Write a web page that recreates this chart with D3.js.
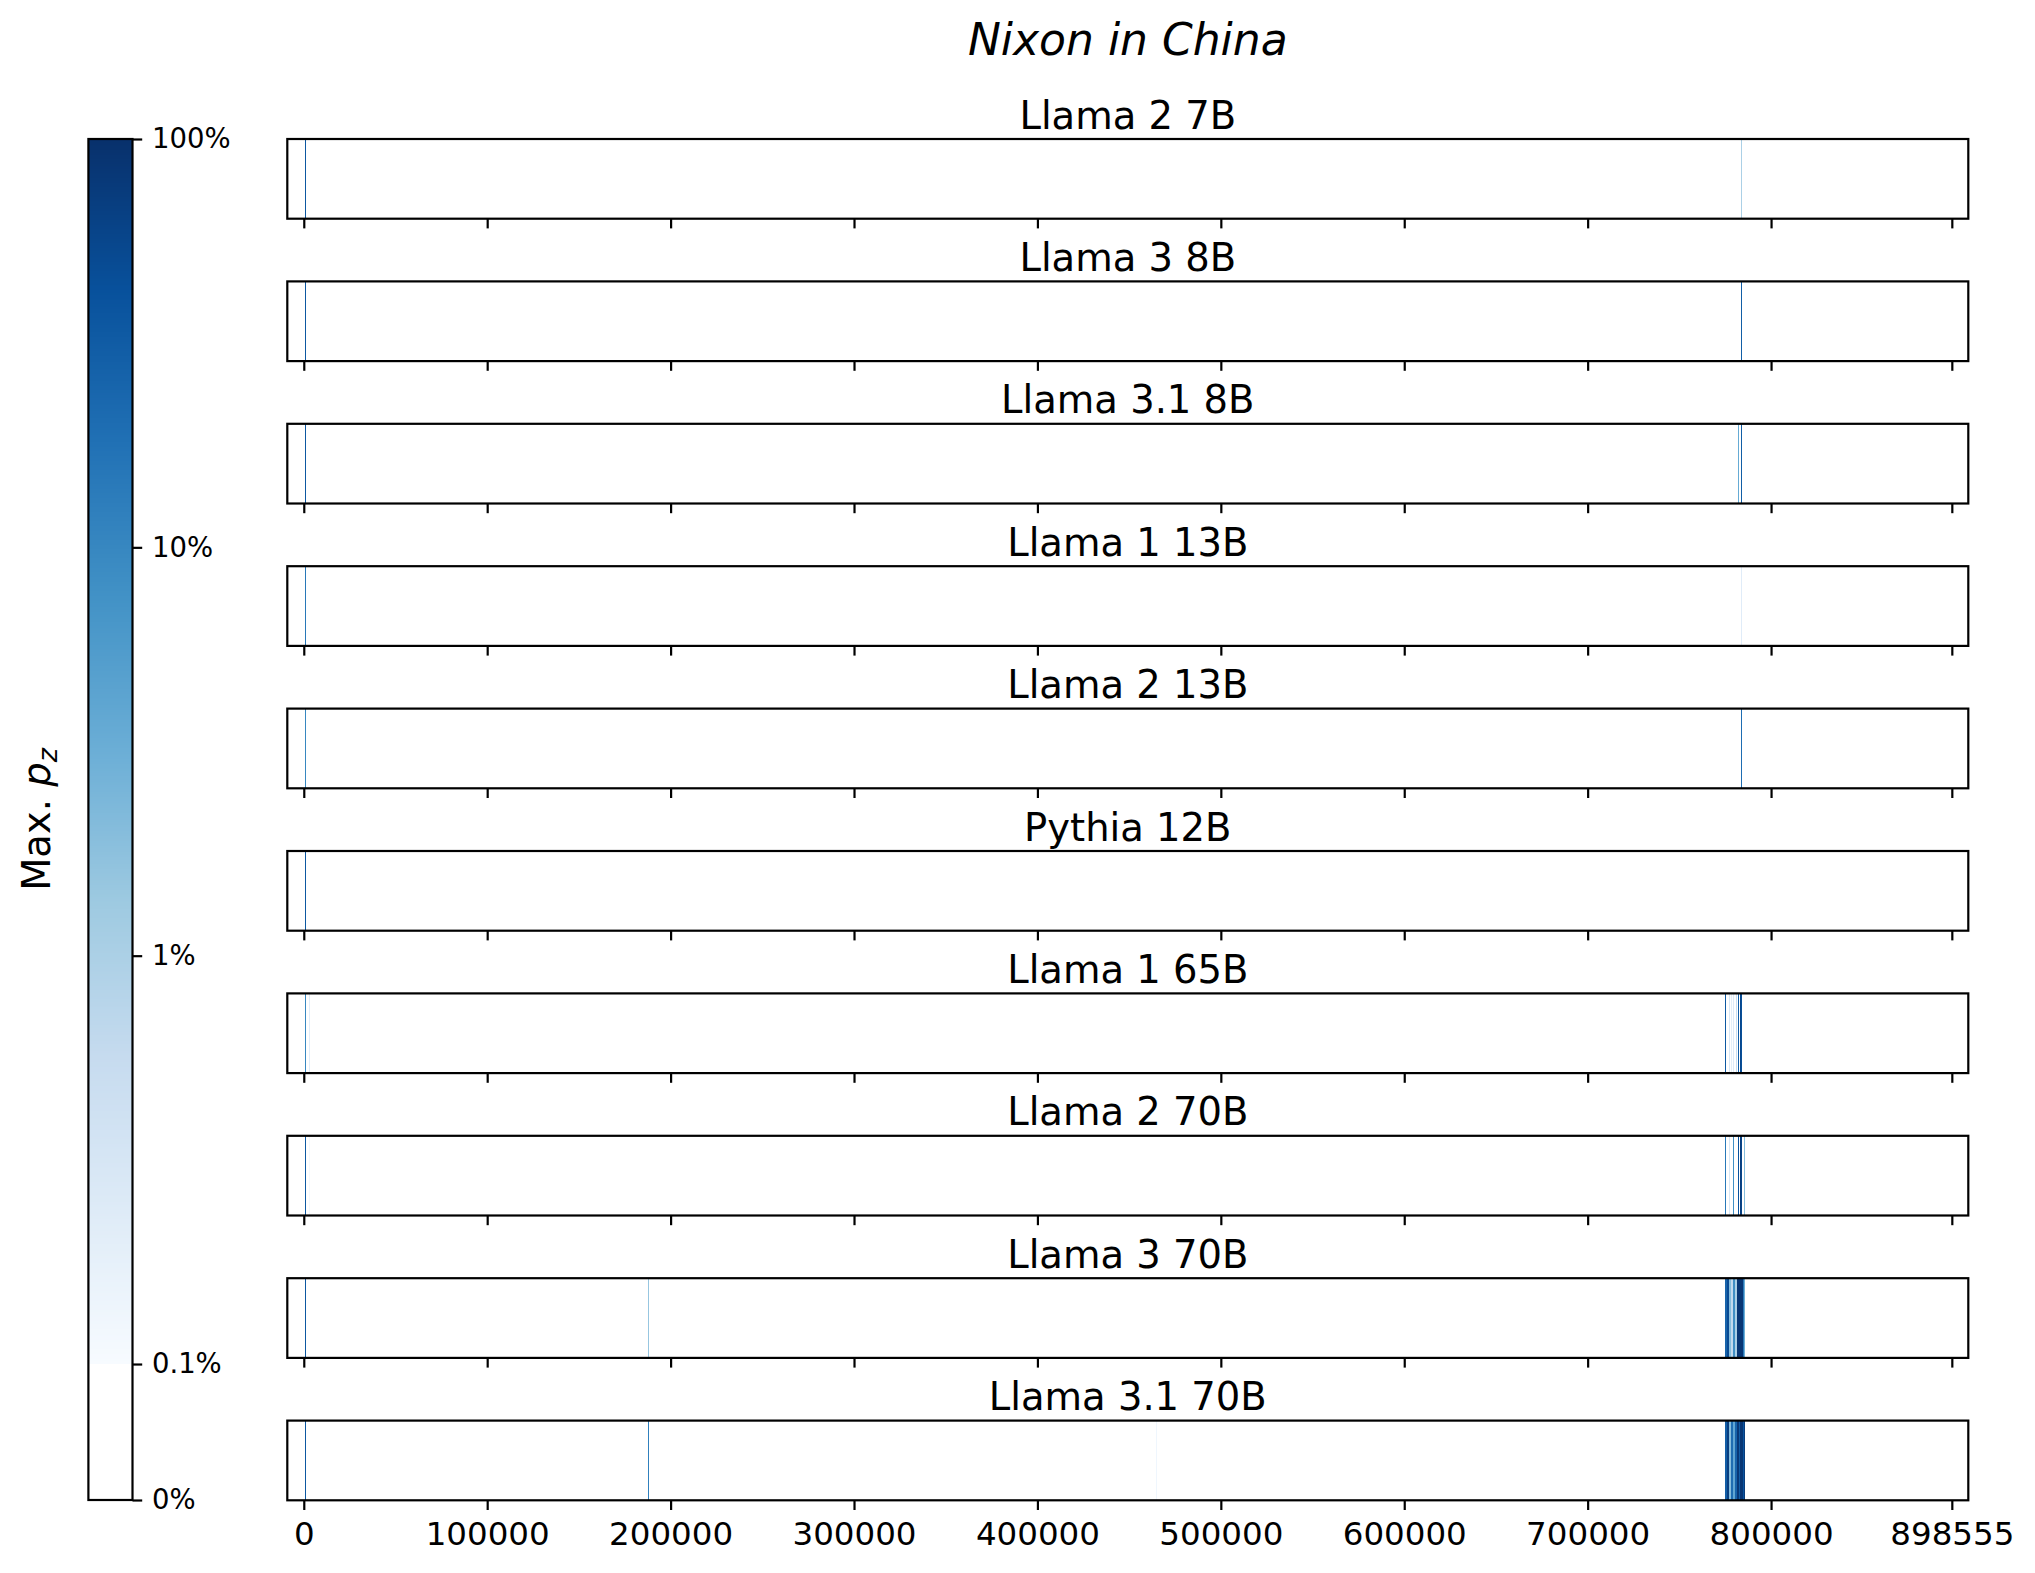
<!DOCTYPE html>
<html>
<head>
<meta charset="utf-8">
<script src="https://cdn.jsdelivr.net/npm/d3@7"></script>
<style>
  html, body { margin: 0; padding: 0; background: #ffffff; }
  svg { display: block; font-family: "DejaVu Sans", sans-serif; }
</style>
</head>
<body>
<svg id="chart" width="2035" height="1573"></svg>
<script>
// ---------------- DATA ----------------
const chartTitle = "Nixon in China";
const models = ["Llama 2 7B", "Llama 3 8B", "Llama 3.1 8B", "Llama 1 13B", "Llama 2 13B",
                "Pythia 12B", "Llama 1 65B", "Llama 2 70B", "Llama 3 70B", "Llama 3.1 70B"];
const totalTokens = 898555;
const xTickValues = [0, 100000, 200000, 300000, 400000, 500000, 600000, 700000, 800000, 898555];
const cbTickValues = [0, 0.001, 0.01, 0.1, 1];
const cbTickLabels = ["0%", "0.1%", "1%", "10%", "100%"];
const cbLabel = "Max. ";
const bluesStops = ["#f7fbff", "#deebf7", "#c6dbef", "#9ecae1", "#6baed6", "#4292c6", "#2171b5", "#08519c", "#08306b"];

// each segment: [start token, end token, max p_z]
const seg_llama2_7b = [[550, 1100, 0.35], [783500, 784050, 0.010]];
const seg_llama3_8b = [[550, 1100, 0.35], [783500, 784050, 0.30]];
const seg_llama31_8b = [[550, 1100, 0.35], [781900, 782450, 0.035], [783500, 784050, 0.30]];
const seg_llama1_13b = [[550, 1100, 0.15], [783500, 784050, 0.0022]];
const seg_llama2_13b = [[550, 1100, 0.10], [783500, 784050, 0.20]];
const seg_pythia_12b = [[550, 1100, 0.35]];
const seg_llama1_65b = [[550, 1100, 0.10], [2600, 3150, 0.0022],
  [775080, 775630, 0.35], [777260, 777810, 0.003], [778030, 778580, 0.002],
  [779280, 779830, 0.0025], [780920, 781470, 0.005], [782170, 782720, 0.30],
  [783100, 783650, 0.55], [783810, 784360, 0.45]];
const seg_llama2_70b = [[550, 1100, 0.35], [3000, 3550, 0.0012],
  [775080, 775630, 0.15], [777260, 777810, 0.003], [779120, 779670, 0.08],
  [782010, 782560, 0.40], [783100, 783650, 0.70], [783810, 784360, 0.60],
  [785440, 785990, 0.02]];
const seg_llama3_70b = [[550, 1100, 0.35], [187600, 188150, 0.015],
  [775080, 776170, 0.25], [776170, 777260, 0.50], [777260, 778350, 0.02],
  [778350, 779440, 0.006], [779440, 780530, 0.08], [780530, 781300, 0.01],
  [781300, 784570, 0.85], [784570, 785280, 0.15], [785280, 785820, 0.03]];
const seg_llama31_70b = [[550, 1100, 0.35], [187600, 188150, 0.12], [464900, 465450, 0.0013],
  [775080, 776170, 0.30], [776170, 777260, 0.70], [777260, 778350, 0.02],
  [778350, 779440, 0.20], [779440, 780530, 0.04], [780530, 781300, 0.25],
  [781300, 782500, 0.80], [782500, 783000, 0.30], [783000, 784600, 0.85],
  [784600, 785100, 0.40], [785100, 785820, 0.75]];
const segments = [seg_llama2_7b, seg_llama3_8b, seg_llama31_8b, seg_llama1_13b, seg_llama2_13b,
                  seg_pythia_12b, seg_llama1_65b, seg_llama2_70b, seg_llama3_70b, seg_llama31_70b];

// ---------------- LAYOUT ----------------
const axL = 287.3, axR = 1968.3;
const axTop0 = 139, pitch = 142.4, axH = 79.7;
const cbL = 88.4, cbR = 132.5, cbTop = 139, cbBot = 1500;
const lw = 2.2, tickLen = 9.7;
const linScale = 0.333; // linear part (0..0.1%) in decades

const svg = d3.select("#chart");

const x = d3.scaleLinear()
  .domain([-0.01 * totalTokens, 1.01 * totalTokens])
  .range([axL, axR]);

const blues = d3.scaleLinear()
  .domain(bluesStops.map((d, i) => i / (bluesStops.length - 1)))
  .range(bluesStops)
  .interpolate(d3.interpolateRgb)
  .clamp(true);

function symT(v) {
  return v <= 0.001 ? linScale * v / 0.001 : linScale + Math.log10(v / 0.001);
}
function colorOf(v) {
  if (v < 0.001) return "#ffffff";
  return blues((symT(v) - linScale) / 3);
}

// ---------------- TITLE ----------------
svg.append("text")
  .attr("x", (axL + axR) / 2).attr("y", 54.5)
  .attr("text-anchor", "middle")
  .attr("font-size", 44).attr("font-style", "italic")
  .attr("fill", "#000")
  .text(chartTitle);

// ---------------- PANELS ----------------
const defs = svg.append("defs");
models.forEach((name, i) => {
  const top = axTop0 + i * pitch;
  const g = svg.append("g");
  defs.append("clipPath").attr("id", "clip" + i)
    .append("rect").attr("x", axL).attr("y", top).attr("width", axR - axL).attr("height", axH);

  g.append("g").attr("clip-path", `url(#clip${i})`)
    .selectAll("rect").data(segments[i]).join("rect")
    .attr("x", d => x(d[0]))
    .attr("width", d => Math.max(1, x(d[1]) - x(d[0])))
    .attr("y", top).attr("height", axH)
    .attr("fill", d => colorOf(d[2]))
    .attr("shape-rendering", "crispEdges");

  // spines
  g.append("rect")
    .attr("x", axL).attr("y", top).attr("width", axR - axL).attr("height", axH)
    .attr("fill", "none").attr("stroke", "#000").attr("stroke-width", lw);

  // x axis
  const isLast = i === models.length - 1;
  const ax = d3.axisBottom(x)
    .tickValues(xTickValues)
    .tickSize(tickLen)
    .tickPadding(12.2)
    .tickFormat(isLast ? d3.format("d") : () => "");
  const axg = g.append("g").attr("transform", `translate(0,${top + axH})`).call(ax);
  axg.select(".domain").remove();
  axg.selectAll(".tick line").attr("stroke", "#000").attr("stroke-width", lw);
  axg.selectAll(".tick text").attr("font-size", 32.5).attr("fill", "#000")
    .attr("font-family", "DejaVu Sans");

  // panel title
  g.append("text")
    .attr("x", (axL + axR) / 2).attr("y", top - 10.5)
    .attr("text-anchor", "middle")
    .attr("font-size", 38.5).attr("fill", "#000")
    .text(name);
});

// ---------------- COLORBAR ----------------
const cbY = d3.scaleLinear().domain([0, linScale + 3]).range([cbBot, cbTop]);
const nSteps = 700;
const gradVals = d3.range(nSteps).map(k => linScale + 3 * k / nSteps);
svg.append("g").selectAll("rect").data(gradVals).join("rect")
  .attr("x", cbL)
  .attr("width", cbR - cbL)
  .attr("y", t => cbY(t + 3 / nSteps) - 0.3)
  .attr("height", t => cbY(t) - cbY(t + 3 / nSteps) + 0.6)
  .attr("fill", t => blues((t - linScale) / 3))
  .attr("shape-rendering", "crispEdges");

svg.append("rect")
  .attr("x", cbL).attr("y", cbTop).attr("width", cbR - cbL).attr("height", cbBot - cbTop)
  .attr("fill", "none").attr("stroke", "#000").attr("stroke-width", lw);

const cbAxis = d3.axisRight(cbY)
  .tickValues(cbTickValues.map(symT))
  .tickSize(tickLen)
  .tickPadding(9.7)
  .tickFormat((d, k) => cbTickLabels[k]);
const cbg = svg.append("g").attr("transform", `translate(${cbR},0)`).call(cbAxis);
cbg.select(".domain").remove();
cbg.selectAll(".tick line").attr("stroke", "#000").attr("stroke-width", lw);
cbg.selectAll(".tick text").attr("font-size", 27.5).attr("fill", "#000")
  .attr("font-family", "DejaVu Sans");

const lab = svg.append("text")
  .attr("transform", `translate(50,${(cbTop + cbBot) / 2}) rotate(-90)`)
  .attr("text-anchor", "middle")
  .attr("font-size", 38.5).attr("fill", "#000");
lab.append("tspan").text(cbLabel);
lab.append("tspan").attr("font-style", "italic").text("p");
lab.append("tspan").attr("font-style", "italic").attr("font-size", 27)
  .attr("dy", 7).text("z");
</script>
</body>
</html>
